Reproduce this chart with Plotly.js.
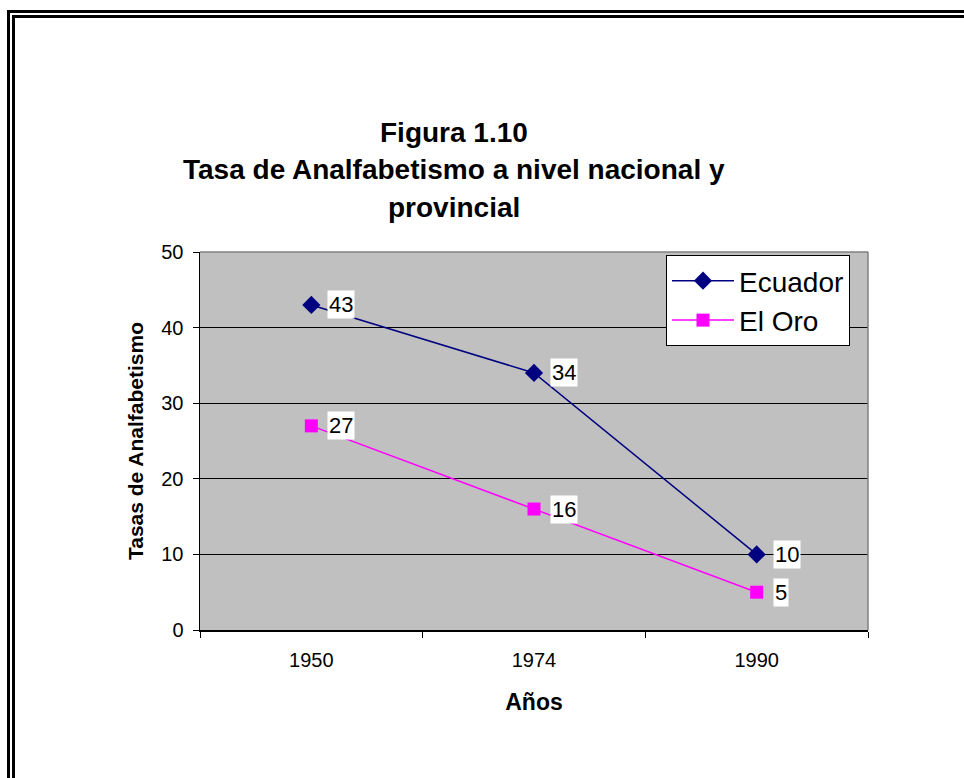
<!DOCTYPE html>
<html>
<head>
<meta charset="utf-8">
<script src="https://cdn.plot.ly/plotly-3.0.1.min.js"></script>
<style>
  html, body { margin: 0; padding: 0; background: #ffffff; }
  #chart { width: 964px; height: 778px; position: absolute; left: 0; top: 0; }
  #frame { position: absolute; left: 7px; top: 10px; width: 1200px; height: 1000px;
           border-left: 8px double #000; border-top: 8px double #000; pointer-events: none; z-index: 5; }
</style>
</head>
<body>
<div id="frame"></div>
<div id="chart"></div>
<script>
// ---- data ----
const years = ['1950', '1974', '1990'];
const ecuador = [43, 34, 10];
const elOro = [27, 16, 5];
const seriesNames = ['Ecuador', 'El Oro'];
const titleLines = ['Figura 1.10', 'Tasa de Analfabetismo a nivel nacional y', 'provincial'];
const yTitle = 'Tasas de Analfabetismo';
const xTitle = 'Años';

const FONT = '"Liberation Sans", Arial, sans-serif';

const traces = [
  {
    x: years, y: ecuador, name: seriesNames[0], type: 'scatter', mode: 'lines+markers',
    line: { color: '#000080', width: 1.5 },
    marker: { symbol: 'diamond', size: 14, color: '#000080' }
  },
  {
    x: years, y: elOro, name: seriesNames[1], type: 'scatter', mode: 'lines+markers',
    line: { color: '#FF00FF', width: 1.5 },
    marker: { symbol: 'square', size: 13, color: '#FF00FF' }
  }
];

const annotations = [];
[ecuador, elOro].forEach(vals => {
  vals.forEach((v, i) => {
    annotations.push({
      x: i, y: v, xref: 'x', yref: 'y', text: String(v), showarrow: false,
      xanchor: 'left', yanchor: 'middle', xshift: 16,
      bgcolor: '#ffffff', borderpad: 1,
      font: { family: FONT, size: 22, color: '#000' }
    });
  });
});

// title lines (centered left of plot centre, as in the reference)
const titleY = [1.315, 1.217, 1.119];
titleLines.forEach((t, i) => {
  annotations.push({
    xref: 'paper', yref: 'paper', x: (454 - 200) / 668, y: titleY[i],
    xanchor: 'center', yanchor: 'middle', showarrow: false, text: '<b>' + t + '</b>',
    font: { family: FONT, size: 28, color: '#000' }
  });
});

const layout = {
  width: 964, height: 778,
  margin: { l: 200, r: 96, t: 252, b: 148, pad: 0 },
  paper_bgcolor: 'rgba(0,0,0,0)',
  plot_bgcolor: '#C0C0C0',
  showlegend: true,
  legend: {
    x: (666 - 200) / 668, y: (630 - 255) / 378, xanchor: 'left', yanchor: 'top',
    bgcolor: '#ffffff', bordercolor: '#000', borderwidth: 1,
    font: { family: FONT, size: 28, color: '#000' },
    itemwidth: 62, tracegroupgap: 0
  },
  xaxis: {
    type: 'category', range: [-0.5, 2.5], tickson: 'boundaries',
    ticks: 'outside', ticklen: 6, tickcolor: '#000', tickwidth: 1,
    showline: true, linecolor: '#000', linewidth: 1.5, showgrid: false, zeroline: false,
    tickfont: { family: FONT, size: 20, color: '#000' }, ticklabelstandoff: 11,
    title: { text: '<b>' + xTitle + '</b>', font: { family: FONT, size: 23, color: '#000' }, standoff: 24 },
    fixedrange: true
  },
  yaxis: {
    range: [0, 50], dtick: 10, tick0: 0,
    ticks: 'outside', ticklen: 6, tickcolor: '#000', tickwidth: 1,
    showline: true, linecolor: '#000', linewidth: 1.5,
    showgrid: true, gridcolor: '#000', gridwidth: 1, zeroline: false,
    tickfont: { family: FONT, size: 20, color: '#000' }, ticklabelstandoff: 5,
    title: { text: '<b>' + yTitle + '</b>', font: { family: FONT, size: 21, color: '#000' }, standoff: 12 },
    fixedrange: true
  },
  shapes: [
    { type: 'line', xref: 'paper', yref: 'paper', x0: 0, x1: 1, y0: 1, y1: 1, line: { color: '#808080', width: 1.5 }, layer: 'above' },
    { type: 'line', xref: 'paper', yref: 'paper', x0: 1, x1: 1, y0: 0, y1: 1, line: { color: '#808080', width: 1.5 }, layer: 'above' }
  ],
  annotations: annotations
};

Plotly.newPlot('chart', traces, layout, { displayModeBar: false, staticPlot: true });
</script>
</body>
</html>
